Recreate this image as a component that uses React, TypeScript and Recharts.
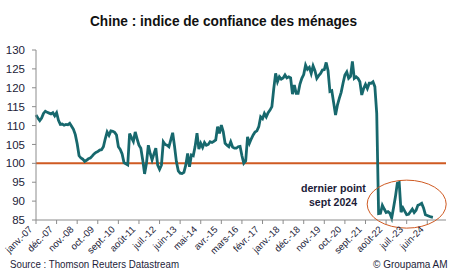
import { LineChart, Line, XAxis, YAxis, ReferenceLine, ReferenceDot } from "recharts";

// Indice mensuel, janv. 2007 -> sept. 2024
const confidence = [
  112.8, 112.0, 111.3, 112.0, 113.2, 113.8, 113.5, 113.3, 113.1, 113.4, 112.6, 113.4, // 2007
  111.4, 110.3, 110.4, 110.1, 110.3, 110.2, 110.6, 109.8, 109.0, 107.6, 105.2, 102.0, // 2008
  101.4, 101.1, 100.5, 100.8, 101.2, 101.4, 101.9, 102.5, 102.9, 103.1, 103.5, 103.6, // 2009
  104.4, 106.5, 108.3, 107.4, 108.6, 108.5, 108.2, 107.5, 104.4, 103.7, 102.5, 100.2, // 2010
  99.9, 99.6, 107.9, 106.8, 105.8, 108.3, 106.5, 104.8, 104.0, 100.9, 97.2, 100.0, // 2011
  104.8, 102.6, 100.9, 102.5, 104.0, 99.5, 98.4, 99.5, 105.7, 105.0, 104.8, 104.4, // 2012
  106.2, 108.1, 104.5, 100.4, 98.0, 97.4, 97.3, 97.6, 99.5, 102.6, 99.1, 102.2, // 2013
  102.0, 104.5, 108.0, 103.8, 105.3, 104.2, 105.5, 104.8, 105.0, 105.7, 105.5, 105.8, // 2014
  106.2, 109.7, 107.9, 110.1, 108.4, 105.3, 104.8, 104.4, 105.7, 104.3, 104.0, 104.0, // 2015
  104.4, 104.5, 102.0, 100.0, 100.6, 107.0, 105.3, 106.5, 107.5, 108.3, 108.6, 109.7, // 2016
  112.3, 111.8, 113.2, 112.3, 113.4, 114.1, 115.0, 119.8, 123.8, 121.6, 122.9, 122.3, // 2017
  122.6, 123.4, 122.6, 122.9, 122.6, 118.3, 120.7, 118.5, 118.5, 121.0, 122.5, 123.5, // 2018
  126.0, 124.9, 125.4, 123.8, 125.8, 124.5, 122.5, 123.2, 123.8, 124.7, 124.8, 126.7, // 2019
  124.5, 119.0, 119.2, 116.0, 112.8, 115.4, 117.2, 118.8, 121.2, 123.4, 124.2, 122.5, // 2020
  123.0, 127.0, 122.5, 122.9, 122.5, 121.6, 118.1, 119.8, 120.9, 119.8, 121.2, 121.2, // 2021
  121.6, 120.3, 113.2, 86.7, 86.8, 88.9, 87.9, 87.0, 87.2, 86.8, 85.5, 88.3, // 2022
  91.2, 94.7, 94.9, 87.1, 88.2, 87.3, 86.4, 86.5, 87.2, 87.9, 87.0, 87.6, // 2023
  88.9, 89.1, 89.4, 88.2, 86.4, 86.2, 86.0, 85.8, 85.7, // 2024
];

// one label every 11 months, starting janv. 2007
const tickLabels = [
  "janv.-07", "déc.-07", "nov.-08", "oct.-09", "sept.-10", "août-11", "juil.-12",
  "juin-13", "mai-14", "avr.-15", "mars-16", "févr.-17", "janv.-18", "déc.-18",
  "nov.-19", "oct.-20", "sept.-21", "août-22", "juil.-23", "juin-24",
];
const TICK_STEP = 11;

const yTicks = [85, 90, 95, 100, 105, 110, 115, 120, 125, 130];

const data = confidence.map((value, i) => ({ month: i, value }));

const teal = "#17686d";
const orange = "#cf5a22";
const ink = "#1c1c38";
const font = "'Liberation Sans', Arial, sans-serif";

const MonthTick = ({ x, y, payload }: any) => {
  const label = tickLabels[Math.round(payload.value / TICK_STEP)];
  const ax = x - 3;
  const ay = y + 6;
  return (
    <text
      x={ax}
      y={ay}
      transform={`rotate(-45 ${ax} ${ay})`}
      textAnchor="end"
      fill={ink}
      fontSize={9.5}
      fontFamily={font}
    >
      {label}
    </text>
  );
};

const Ring = ({ cx, cy }: any) => (
  <ellipse cx={cx} cy={cy} rx={39.5} ry={24} fill="none" stroke={orange} strokeWidth={1} />
);

export default function App() {
  return (
    <div
      style={{
        position: "absolute",
        left: 0,
        top: 0,
        width: 450,
        height: 272,
        background: "#fff",
        overflow: "hidden",
      }}
    >
      <LineChart width={450} height={272} data={data} margin={{ top: 50, right: 4, bottom: 0, left: 0 }}>
        <XAxis
          dataKey="month"
          type="number"
          domain={[0, 219]}
          ticks={tickLabels.map((_, i) => i * TICK_STEP)}
          interval={0}
          tick={<MonthTick />}
          tickSize={4}
          tickMargin={0}
          height={52}
          stroke="#8c8c8c"
        />
        <YAxis
          domain={[85, 130]}
          ticks={yTicks}
          interval={0}
          width={36}
          tickSize={4}
          tickMargin={7}
          stroke="#8c8c8c"
          tick={{ fill: ink, fontSize: 11.5, fontFamily: font }}
        />
        <ReferenceLine y={100} stroke={orange} strokeWidth={2} />
        <Line
          type="linear"
          dataKey="value"
          stroke={teal}
          strokeWidth={2.8}
          dot={false}
          isAnimationActive={false}
        />
        <ReferenceDot x={198} y={89.2} r={0} shape={<Ring />} ifOverflow="visible" />
      </LineChart>
      <svg
        width={450}
        height={272}
        style={{ position: "absolute", left: 0, top: 0, pointerEvents: "none" }}
        fontFamily={font}
      >
        <text x={223.5} y={26} textAnchor="middle" fontSize={15.5} fontWeight="bold" fill="#111" textLength={267} lengthAdjust="spacingAndGlyphs">
          Chine : indice de confiance des ménages
        </text>
        <text x={333.4} y={191.5} textAnchor="middle" fontSize={11.5} fontWeight="bold" fill={ink} textLength={65} lengthAdjust="spacingAndGlyphs">
          dernier point
        </text>
        <text x={333} y={206} textAnchor="middle" fontSize={11.5} fontWeight="bold" fill={ink} textLength={48} lengthAdjust="spacingAndGlyphs">
          sept 2024
        </text>
        <text x={10} y={267.5} fontSize={10.5} fill={ink} textLength={169} lengthAdjust="spacingAndGlyphs">
          Source : Thomson Reuters Datastream
        </text>
        <text x={373} y={267.5} fontSize={10}>
          <tspan fill={ink}>© Groupama AM</tspan>
        </text>
      </svg>
    </div>
  );
}
